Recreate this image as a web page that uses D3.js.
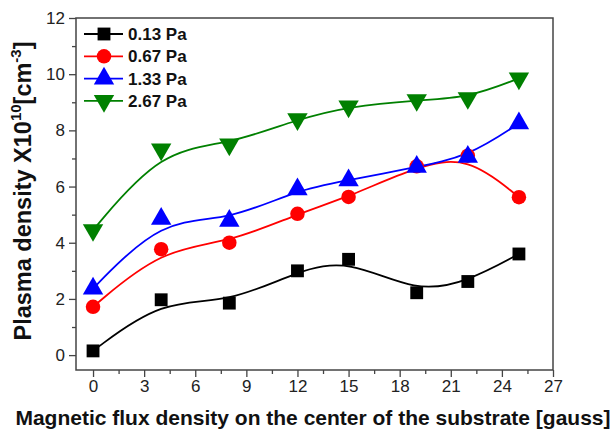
<!DOCTYPE html>
<html>
<head>
<meta charset="utf-8">
<script src="https://cdn.jsdelivr.net/npm/d3@7"></script>
<style>
  body { margin: 0; background: #fff; }
  text { font-family: "Liberation Sans", Arial, sans-serif; }
</style>
</head>
<body>
<div id="chart"></div>
<script>
// Data
var fluxValues = [0, 4, 8, 12, 15, 19, 22, 25];
var seriesNames = ["0.13 Pa", "0.67 Pa", "1.33 Pa", "2.67 Pa"];
var density013 = [0.15, 1.97, 1.85, 3.0, 3.41, 2.22, 2.62, 3.6];
var density067 = [1.72, 3.77, 4.0, 5.03, 5.63, 6.72, 7.1, 5.62];
var density133 = [2.37, 4.85, 4.78, 5.9, 6.22, 6.7, 7.06, 8.25];
var density267 = [4.45, 7.32, 7.5, 8.4, 8.85, 9.08, 9.15, 9.85];
var xTicks = [0, 3, 6, 9, 12, 15, 18, 21, 24, 27];
var yTicks = [0, 2, 4, 6, 8, 10, 12];

var svgWidth = 612;
var svgHeight = 438;

var margin = { top: 18, right: 59, bottom: 68, left: 76 };
var width = svgWidth - margin.left - margin.right;
var height = svgHeight - margin.top - margin.bottom;

var svg = d3.select("#chart")
  .append("svg")
  .attr("width", svgWidth)
  .attr("height", svgHeight);

var chartGroup = svg.append("g")
  .attr("transform", `translate(${margin.left}, ${margin.top})`);

var xScale = d3.scaleLinear().domain([-1, 27]).range([0, width]);
var yScale = d3.scaleLinear().domain([-0.53, 12]).range([height, 0]);

var axisColor = "#444";

// minor ticks
var xMinor = d3.range(0, 27.1, 1.5).filter(v => xTicks.indexOf(v) < 0);
var yMinor = d3.range(1, 12, 2);

var bottomAxis = d3.axisBottom(xScale).tickValues(xTicks).tickSize(7).tickPadding(3);
var leftAxis = d3.axisLeft(yScale).tickValues(yTicks).tickSize(7).tickPadding(4);

var xAxisG = chartGroup.append("g")
  .attr("transform", `translate(0, ${height})`)
  .call(bottomAxis);
chartGroup.append("g")
  .attr("transform", `translate(0, ${height})`)
  .call(d3.axisBottom(xScale).tickValues(xMinor).tickSize(4).tickFormat(""))
  .call(g => g.select(".domain").remove())
  .selectAll("line").attr("stroke", axisColor).attr("stroke-width", 1.3);

var yAxisG = chartGroup.append("g").call(leftAxis);
chartGroup.append("g")
  .call(d3.axisLeft(yScale).tickValues(yMinor).tickSize(4).tickFormat(""))
  .call(g => g.select(".domain").remove())
  .selectAll("line").attr("stroke", axisColor).attr("stroke-width", 1.3);

[xAxisG, yAxisG].forEach(function(g) {
  g.select(".domain").remove();
  g.selectAll("line").attr("stroke", axisColor).attr("stroke-width", 1.3);
  g.selectAll("text").attr("font-size", 17).attr("fill", "#222")
    .attr("font-family", "'Liberation Sans', Arial, sans-serif");
});

// frame
chartGroup.append("rect")
  .attr("x", 0).attr("y", 0)
  .attr("width", width).attr("height", height)
  .attr("fill", "none")
  .attr("stroke", axisColor)
  .attr("stroke-width", 1.5);

var allSeries = [density013, density067, density133, density267];
var colors = ["#000000", "#ff0000", "#0000ff", "#008000"];
var shapes = [d3.symbolSquare, d3.symbolCircle, d3.symbolTriangle, d3.symbolTriangle];
var sizes = [165, 165, 180, 180];
var rotations = [0, 0, 0, 180];

var line = d3.line()
  .x((d, i) => xScale(fluxValues[i]))
  .y(d => yScale(d))
  .curve(d3.curveBasis);

allSeries.forEach(function(values, s) {
  chartGroup.append("path")
    .datum(values)
    .attr("fill", "none")
    .attr("stroke", colors[s])
    .attr("stroke-width", 1.8)
    .attr("d", line);
});

allSeries.forEach(function(values, s) {
  chartGroup.append("g")
    .selectAll("path")
    .data(values)
    .enter()
    .append("path")
    .attr("d", d3.symbol().type(shapes[s]).size(sizes[s]))
    .attr("transform", (d, i) => `translate(${xScale(fluxValues[i])}, ${yScale(d)}) rotate(${rotations[s]})`)
    .attr("fill", colors[s]);
});

// legend
var legend = svg.append("g").attr("transform", "translate(84, 34)");
seriesNames.forEach(function(name, s) {
  var row = legend.append("g").attr("transform", `translate(0, ${s * 22.3})`);
  row.append("line")
    .attr("x1", 0).attr("x2", 39)
    .attr("stroke", colors[s]).attr("stroke-width", 1.8);
  row.append("path")
    .attr("d", d3.symbol().type(shapes[s]).size(sizes[s]))
    .attr("transform", `translate(20, 0) rotate(${rotations[s]})`)
    .attr("fill", colors[s]);
  row.append("text")
    .attr("x", 44).attr("y", 6)
    .attr("font-size", 17).attr("font-weight", "bold")
    .attr("fill", "#111")
    .text(name);
});

// axis labels
svg.append("text")
  .attr("x", 313).attr("y", 425)
  .attr("text-anchor", "middle")
  .attr("font-size", 21).attr("font-weight", "bold")
  .attr("fill", "#111")
  .text("Magnetic flux density on the center of the substrate [gauss]");

var yLabel = svg.append("text")
  .attr("transform", "translate(31, 191) rotate(-90)")
  .attr("text-anchor", "middle")
  .attr("font-size", 23.5).attr("font-weight", "bold")
  .attr("fill", "#111");
yLabel.append("tspan").text("Plasma density X10");
yLabel.append("tspan").attr("font-size", 15).attr("dy", -10).text("10");
yLabel.append("tspan").attr("dy", 10).text("[cm");
yLabel.append("tspan").attr("font-size", 15).attr("dy", -10).text("-3");
yLabel.append("tspan").attr("dy", 10).text("]");
</script>
</body>
</html>
